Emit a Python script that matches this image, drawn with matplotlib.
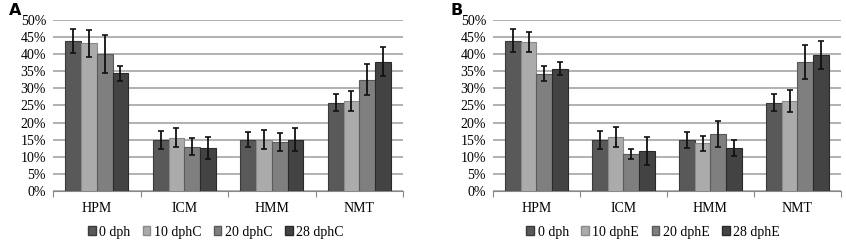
import matplotlib
matplotlib.use("Agg")
import matplotlib.pyplot as plt
import numpy as np
from matplotlib.patches import Patch

categories = ["HPM", "ICM", "HMM", "NMT"]
yticks = [0, 5, 10, 15, 20, 25, 30, 35, 40, 45, 50]

labels_a = ["0 dph", "10 dphC", "20 dphC", "28 dphC"]
vals_a = [
    [43.9, 15.0, 15.0, 25.8],
    [43.2, 15.6, 15.0, 26.4],
    [40.0, 13.0, 14.4, 32.5],
    [34.4, 12.5, 15.0, 37.8],
]
errs_a = [
    [3.5, 2.6, 2.2, 2.5],
    [4.0, 2.7, 2.8, 2.9],
    [5.5, 2.6, 2.6, 4.5],
    [2.2, 3.2, 3.3, 4.3],
]

labels_b = ["0 dph", "10 dphE", "20 dphE", "28 dphE"]
vals_b = [
    [43.9, 14.9, 14.9, 25.8],
    [43.6, 15.8, 14.0, 26.2],
    [34.3, 10.9, 16.8, 37.7],
    [35.8, 11.6, 12.5, 39.8],
]
errs_b = [
    [3.4, 2.6, 2.4, 2.5],
    [3.0, 2.8, 2.2, 3.2],
    [2.2, 1.4, 3.8, 4.9],
    [2.0, 4.1, 2.4, 4.0],
]

colors = ["#595959", "#ababab", "#7f7f7f", "#434343"]
edges = ["#3a3a3a", "#8a8a8a", "#5a5a5a", "#2a2a2a"]
serif = "Liberation Serif"
fs = 10

fig = plt.figure(figsize=(8.46, 2.41), dpi=100)


def panel(rect, vals, errs, labels, letter, letter_x, legend_x):
    ax = fig.add_axes(rect)
    x = np.arange(len(categories))
    w = 0.18
    for i in range(4):
        ax.bar(x + (i - 1.5) * w, vals[i], w, color=colors[i], edgecolor=edges[i],
               linewidth=0.8, zorder=3,
               yerr=errs[i], error_kw=dict(ecolor="#111111", elinewidth=1.3,
                                          capsize=2.5, capthick=1.2, zorder=4))
    ax.set_xlim(-0.5, 3.5)
    ax.set_ylim(0, 50)
    ax.set_yticks(yticks)
    ax.set_yticklabels([f"{v}%" for v in yticks], fontfamily=serif, fontsize=fs)
    ax.yaxis.grid(True, color="#ababab", linewidth=1.3, zorder=0)
    ax.set_axisbelow(True)
    ax.tick_params(axis="y", length=0, pad=5)
    ax.set_xticks(x)
    ax.set_xticklabels(categories, fontfamily=serif, fontsize=fs)
    ax.set_xticks(np.arange(-0.5, 4.0, 1.0), minor=True)
    ax.tick_params(axis="x", which="major", length=0, pad=8)
    ax.tick_params(axis="x", which="minor", length=4, color="#888888", width=0.8)
    for s in ["top", "right", "left"]:
        ax.spines[s].set_visible(False)
    ax.spines["bottom"].set_color("#888888")
    ax.spines["bottom"].set_linewidth(0.8)
    handles = [Patch(facecolor=colors[i], edgecolor=edges[i], label=labels[i]) for i in range(4)]
    fig.legend(handles=handles, loc="center", bbox_to_anchor=(legend_x, 0.037), ncol=4,
               frameon=False, prop={"family": serif, "size": fs},
               handlelength=0.55, handleheight=0.55, handletextpad=0.25, columnspacing=0.9)
    fig.text(letter_x, 0.955, letter, fontsize=11.5, fontweight="bold",
             fontfamily="DejaVu Sans", ha="left", va="center")
    return ax


panel([0.0627, 0.2075, 0.4137, 0.7095], vals_a, errs_a, labels_a, "A", 0.010, 0.255)
panel([0.5827, 0.2075, 0.4113, 0.7095], vals_b, errs_b, labels_b, "B", 0.532, 0.772)

fig.savefig("out.png", dpi=100)
